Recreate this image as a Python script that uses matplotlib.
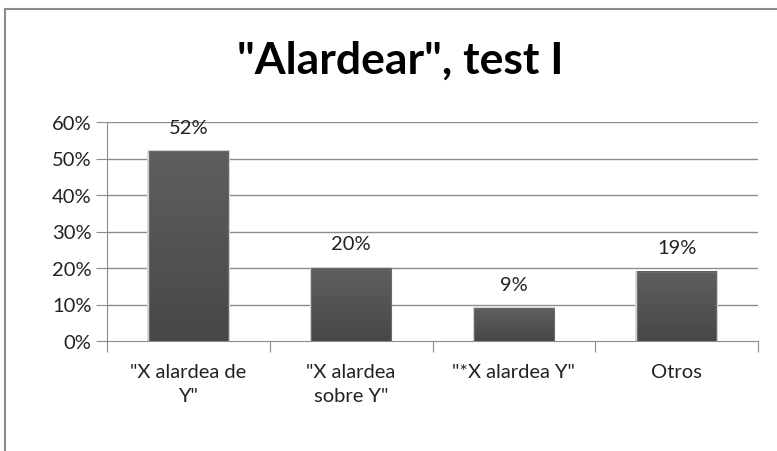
import numpy as np
import matplotlib.pyplot as plt
from matplotlib.patches import Rectangle
from matplotlib.colors import LinearSegmentedColormap

categories = ['"X alardea de\nY"', '"X alardea\nsobre Y"', '"*X alardea Y"', 'Otros']
values = [0.52, 0.20, 0.09, 0.19]
labels = ['52%', '20%', '9%', '19%']
yticks = [0, 0.1, 0.2, 0.3, 0.4, 0.5, 0.6]
ytick_labels = ['0%', '10%', '20%', '30%', '40%', '50%', '60%']

plt.rcParams['font.family'] = ['Lato', 'DejaVu Sans']

fig = plt.figure(figsize=(7.77, 4.52), dpi=100)
fig.patch.set_facecolor('white')
# outer chart border (cropped on right and bottom)
fig.add_artist(Rectangle((5 / 777, -0.1), 1.2, 1 - 10 / 452 + 0.1, transform=fig.transFigure,
                         fill=False, edgecolor='#8a8a8a', linewidth=1.5))

ax = fig.add_axes([107 / 777, 110 / 452, 651 / 777, 219 / 452])
x = np.arange(len(categories))

for t in yticks[1:]:
    ax.axhline(t, color='#8c8c8c', linewidth=1.0, zorder=1)

grad = np.linspace(0, 1, 256).reshape(-1, 1)
cmap = LinearSegmentedColormap.from_list('bar', ['#474747', '#5f5f5f'])
bw = 0.49
for xi, v in zip(x, values):
    # soft shadow
    ax.add_patch(Rectangle((xi - bw / 2 - 0.008, 0), bw + 0.016, v + 0.002,
                           facecolor='#d8d8d8', edgecolor='none', zorder=2))
    ax.imshow(grad, cmap=cmap, origin='lower', aspect='auto',
              extent=(xi - bw / 2, xi + bw / 2, 0, v), zorder=3)
    ax.add_patch(Rectangle((xi - bw / 2, 0), bw, v, fill=False,
                           edgecolor='#6a6a6a', linewidth=0.8, zorder=4))

for xi, v, lab in zip(x, values, labels):
    ax.text(xi, v + 0.066, lab, ha='center', va='center', fontsize=14.5, color='#222222')

ax.set_yticks(yticks)
ax.set_yticklabels(ytick_labels, fontsize=14.5, color='#222222')
ax.set_xticks(np.arange(-0.5, len(categories), 1.0))
ax.set_xticklabels([])
ax.set_xticks(x, minor=True)
ax.set_xticklabels(categories, minor=True, fontsize=14.5, color='#222222', linespacing=1.45)
ax.tick_params(axis='x', which='minor', length=0, pad=16)
ax.tick_params(axis='x', which='major', length=8, color='#8c8c8c')
ax.tick_params(axis='y', length=8, color='#8c8c8c', pad=3)

for s in ['top', 'right']:
    ax.spines[s].set_visible(False)
for s in ['left', 'bottom']:
    ax.spines[s].set_color('#8c8c8c')
ax.set_xlim(-0.5, len(categories) - 0.5)
ax.set_ylim(0, 0.6)

fig.text(400 / 777, 1 - 61 / 452, '"Alardear", test I', ha='center', va='center',
         fontsize=32, fontweight='bold', color='black')

fig.savefig('out.png', dpi=100)
